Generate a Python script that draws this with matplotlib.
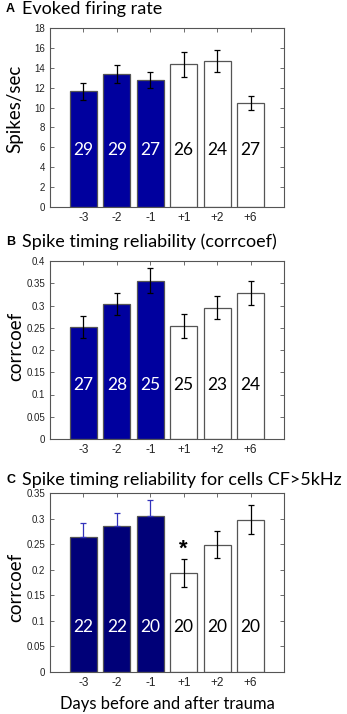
import numpy as np
import matplotlib.pyplot as plt

days = ['-3', '-2', '-1', '+1', '+2', '+6']

rate_mean = [11.63, 13.37, 12.77, 14.35, 14.65, 10.46]
rate_err = [0.82, 0.94, 0.80, 1.27, 1.10, 0.72]
rate_n = [29, 29, 27, 26, 24, 27]

corr_mean = [0.252, 0.303, 0.356, 0.253, 0.295, 0.329]
corr_err = [0.025, 0.025, 0.029, 0.027, 0.026, 0.027]
corr_n = [27, 28, 25, 25, 23, 24]

hf_mean = [0.264, 0.285, 0.306, 0.193, 0.249, 0.298]
hf_err = [0.027, 0.026, 0.031, 0.027, 0.027, 0.029]
hf_n = [22, 22, 20, 20, 20, 20]

title_font = ['Lato', 'DejaVu Sans']
tick_font = ['Liberation Sans', 'DejaVu Sans']

fig = plt.figure(figsize=(3.47, 7.14), dpi=100)
W, H = 347, 714


def make_axes(left, top, right, bottom):
    return fig.add_axes([left / W, 1 - bottom / H, (right - left) / W, (bottom - top) / H])


def draw_panel(ax, mean, err, counts, dark, ylim, yticks, ylab, label_y, ylab_pos,
               upper_only=False, ecol_dark='k'):
    x = np.arange(1, len(mean) + 1)
    colors = [dark] * 3 + ['white'] * 3
    ax.bar(x, mean, width=0.8, color=colors, edgecolor='#555555', linewidth=0.9, zorder=2)
    for i in range(len(mean)):
        if upper_only and i < 3:
            ax.errorbar(x[i], mean[i], yerr=[[0], [err[i]]], fmt='none', ecolor=ecol_dark,
                        elinewidth=0.9, capsize=2.5, capthick=0.9, zorder=3)
        else:
            ax.errorbar(x[i], mean[i], yerr=err[i], fmt='none', ecolor='k',
                        elinewidth=0.9, capsize=2.5, capthick=0.9, zorder=3)
        ax.text(x[i], label_y, str(counts[i]), ha='center', va='center', fontsize=12.5,
                color='white' if i < 3 else 'black', family=title_font, zorder=4)
    ax.set_xlim(0, 7)
    ax.set_ylim(*ylim)
    ax.set_xticks(x)
    ax.set_xticklabels(days, family=tick_font, fontsize=8.5)
    ax.set_yticks(yticks)
    ax.set_yticklabels([('%g' % t) for t in yticks], family=tick_font, fontsize=7, color='#333333')
    ax.tick_params(direction='in', top=True, right=True, length=3, width=0.6, colors='#555555',
                   labelcolor='#222222')
    for s in ax.spines.values():
        s.set_color('#555555')
        s.set_linewidth(0.8)
    ax.set_ylabel(ylab, family=title_font, fontsize=13.5)
    ax.yaxis.set_label_coords(-0.112, ylab_pos)


axA = make_axes(50, 28, 284, 207)
draw_panel(axA, rate_mean, rate_err, rate_n, '#00009E', (0, 18), np.arange(0, 19, 2),
           'Spikes/sec', 5.7, 0.55)

axB = make_axes(50, 261, 284, 439)
draw_panel(axB, corr_mean, corr_err, corr_n, '#00009E', (0, 0.4), np.round(np.arange(0, 0.41, 0.05), 2),
           'corrcoef', 0.122, 0.52)

axC = make_axes(50, 493, 284, 672)
draw_panel(axC, hf_mean, hf_err, hf_n, '#000078', (0, 0.35), np.round(np.arange(0, 0.36, 0.05), 2),
           'corrcoef', 0.088, 0.47, upper_only=True, ecol_dark='#3333BB')
axC.text(4, hf_mean[3] + hf_err[3] + 0.02, '*', ha='center', va='center', fontsize=16,
         fontweight='bold', family=tick_font)
axC.set_xlabel('Days before and after trauma', family=title_font, fontsize=12, labelpad=5)

titles = [('A', 'Evoked firing rate', 9),
          ('B', 'Spike timing reliability (corrcoef)', 242),
          ('C', 'Spike timing reliability for cells CF>5kHz', 480)]
for letter, txt, ypix in titles:
    fig.text(6 / W, 1 - ypix / H, letter, fontsize=9, fontweight='bold', family=tick_font,
             va='center', ha='left')
    fig.text(22 / W, 1 - ypix / H, txt, fontsize=13, family=title_font, va='center', ha='left')

fig.savefig('out.png', dpi=100)
